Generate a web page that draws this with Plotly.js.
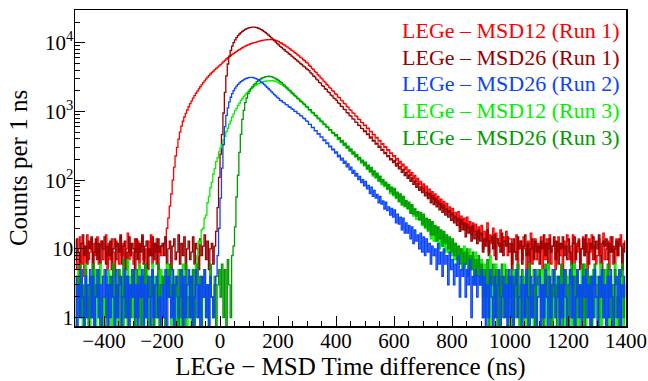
<!DOCTYPE html>
<html><head><meta charset="utf-8">
<script src="https://cdn.plot.ly/plotly-3.0.1.min.js"></script>
<style>html,body{margin:0;padding:0;background:#fff;} #chart{width:648px;height:381px;}</style>
</head><body><div id="chart"></div>
<script>
// Histogram binning (ns)
const binStart = -500;
const binWidth = 5;

const seriesNames = ["LEGe \u2013 MSD12 (Run 1)", "LEGe \u2013 MSD26 (Run 1)", "LEGe \u2013 MSD26 (Run 2)", "LEGe \u2013 MSD12 (Run 3)", "LEGe \u2013 MSD26 (Run 3)"];

// counts per 1 ns, one value per 5 ns bin, from -500 ns to 1400 ns
const countsMSD12Run1 = [
13,5,10,15,6,12,4,11,16,7,9,14,5,12,8,15,6,11,13,7,
10,16,5,12,7,14,9,4,13,11,6,15,8,12,5,10,17,7,12,9,
6,14,9,13,5,11,15,7,10,4,13,8,16,6,12,9,14,5,11,8,
11,12,15,20,28,42,63,100,155,225,300,395,500,610,720,830,940,1050,1170,1300,
1430,1560,1700,1840,1980,2130,2290,2450,2620,2790,2970,3150,3330,3510,3690,3870,4050,4230,4420,4610,
4800,5050,5300,5550,5800,6040,6280,6520,6760,7000,7240,7480,7720,7960,8200,8450,8700,8950,9150,9330,
9500,9680,9850,10000,10150,10300,10450,10580,10700,10800,10900,10980,11050,11080,11100,11090,11050,10950,10800,10600,
10350,10020,9830,9490,9260,8910,8680,8330,8100,7750,7530,7190,6980,6650,6440,6140,5950,5650,5470,5200,
5040,4700,4530,4230,4080,3800,3670,3420,3300,3080,2970,2770,2680,2490,2400,2240,2170,2010,1950,1810,
1760,1620,1590,1460,1425,1310,1285,1180,1160,1060,1040,955,935,860,845,770,760,695,685,625,
630,565,570,505,512,455,462,410,418,370,378,333,340,300,308,270,278,244,250,220,
228,196,207,176,188,160,171,143,156,129,141,117,129,104,117,95,106,86,96,79,
88,70,82,62,74,57,68,52,63,48,58,44,53,40,49,37,46,34,41,31,
39,28,34,26,35,21,30,23,28,19,29,20,25,16,24,18,23,14,21,16,
22,10,18,13,24,9,16,12,20,8,17,14,11,19,9,15,13,18,8,14,
14,6,12,9,16,5,11,13,7,15,10,4,13,8,17,6,11,14,7,12,
9,15,5,12,7,14,10,16,6,11,13,5,9,15,8,12,4,13,10,16,
13,7,11,16,5,12,9,14,6,10,15,8,12,5,14,9,16,7,11,6,
8,14,6,12,17,7,10,13,5,15,9,11,6,14,8,12,16,5,10,13];

const countsMSD26Run1 = [
7,14,9,5,12,16,8,11,6,13,10,15,5,9,14,7,12,6,13,10,
15,6,11,8,13,5,10,14,7,12,9,16,6,11,13,5,9,15,8,12,
10,5,14,7,12,9,16,6,11,13,5,10,8,15,7,12,6,14,9,11,
12,8,15,6,10,13,5,11,14,7,9,16,6,12,8,15,5,10,13,7,
9,15,6,12,10,5,14,8,11,16,7,13,5,10,12,6,11,18,40,110,
240,460,950,1900,3300,4900,6400,7700,8900,10000,11000,11900,12700,13400,14000,14600,15100,15600,16000,16300,
16600,16750,16850,16850,16750,16550,16250,15900,15500,15050,14550,14000,13450,12900,12350,11800,11250,10700,10200,9700,
9300,8840,8570,8150,7900,7500,7280,6910,6710,6370,6170,5860,5680,5390,5230,4960,4820,4570,4450,4220,
4060,3930,3650,3530,3280,3180,2950,2860,2650,2580,2380,2320,2140,2090,1930,1880,1730,1690,1560,1520,
1450,1330,1300,1190,1175,1070,1060,960,950,870,855,778,772,700,695,630,625,566,562,510,
520,462,470,410,425,372,384,336,346,300,312,272,280,244,253,221,228,198,206,181,
192,160,175,146,158,130,143,117,130,106,119,96,108,87,98,79,90,71,80,66,
76,59,67,54,64,47,60,44,55,41,50,37,46,34,43,31,38,29,36,26,
33,24,30,22,28,18,27,19,24,15,23,17,21,13,22,14,18,12,19,13,
17,9,14,11,19,8,13,15,10,16,7,14,12,9,17,8,13,11,15,9,
12,5,14,9,7,15,10,13,6,11,16,8,12,5,10,14,7,13,9,11,
6,13,10,16,8,12,5,14,9,11,15,7,13,6,12,10,15,8,11,7,
14,9,6,12,15,7,11,13,5,10,14,8,16,9,6,12,10,15,7,13,
10,16,8,5,13,11,14,7,12,9,15,6,10,13,8,14,11,5,12,9];

const countsMSD26Run2 = [
4,0,3,1,5,2,0,4,1,3,5,1,4,0,2,5,1,3,0,4,
2,5,0,3,1,4,2,0,5,1,3,4,0,2,5,1,4,0,3,2,
5,1,3,0,4,2,5,0,3,1,4,2,0,5,1,3,4,1,2,0,
3,1,5,0,4,2,1,5,0,3,4,1,2,5,0,4,1,3,5,1,
4,0,2,5,1,3,0,4,2,5,1,3,0,4,2,1,3,4,8,20,
55,150,330,600,880,1130,1380,1610,1820,2010,2180,2330,2470,2600,2710,2810,2900,2980,3040,3090,
3130,3140,3120,3080,3020,2950,2870,2780,2680,2580,2470,2360,2250,2140,2040,1940,1850,1760,1680,1600,
1545,1455,1432,1352,1336,1260,1244,1170,1152,1088,1072,1004,998,936,925,868,856,798,784,728,
718,648,650,580,585,522,528,468,475,422,428,378,386,340,348,306,313,276,282,247,
258,218,232,196,210,176,190,156,172,142,155,126,139,115,126,102,114,92,102,83,
96,75,84,64,79,58,71,55,62,47,58,45,50,38,48,36,41,31,39,29,
37,24,32,23,29,19,28,17,24,17,22,14,21,12,19,13,16,10,17,9,
15,8,14,9,12,6,11,8,10,5,12,6,9,4,10,6,8,3,9,5,
7,3,6,4,8,2,5,4,6,2,5,3,7,1,4,3,5,2,4,3,
5,1,4,0,3,1,5,2,0,4,1,3,5,0,2,4,1,3,0,5,
1,4,0,3,5,1,2,4,0,3,1,5,2,0,4,1,3,5,0,2,
4,0,3,1,5,2,0,4,1,3,5,1,2,4,0,3,1,5,2,0,
3,5,1,4,0,2,5,1,3,0,4,2,5,1,3,0,4,1,5,2,
0,4,2,5,1,3,0,4,1,5,2,0,3,4,1,5,0,3,2,4];

const countsMSD12Run3 = [
3,0,5,1,4,0,2,6,1,3,0,4,2,5,0,3,1,6,0,2,
0,4,1,5,2,0,6,1,3,0,5,2,4,0,3,1,7,0,4,1,
5,0,3,1,6,2,0,4,1,5,0,3,2,6,0,4,1,3,0,5,
1,4,0,6,2,5,0,3,1,4,0,5,2,0,6,1,3,0,4,2,
0,5,1,6,8,13,12,19,20,28,31,47,58,78,93,123,147,186,212,259,
295,326,386,436,510,570,656,730,832,914,1028,1112,1230,1322,1450,1540,1660,1742,1858,1932,
2060,2130,2240,2300,2400,2450,2540,2580,2650,2680,2740,2750,2790,2780,2810,2790,2800,2760,2750,2690,
2610,2520,2470,2370,2310,2200,2130,2020,1950,1850,1790,1690,1630,1540,1490,1400,1355,1275,1235,1160,
1135,1045,1030,948,938,860,852,780,774,708,702,642,638,583,580,530,526,481,478,437,
445,388,404,352,367,320,333,290,303,263,275,238,250,216,227,196,207,178,188,162,
178,144,158,131,147,115,134,108,119,97,112,86,101,81,90,73,85,64,77,59,
72,54,64,49,60,43,56,41,49,38,45,34,42,30,39,27,35,26,31,22,
30,20,27,18,26,14,24,13,21,13,20,10,18,11,17,9,15,9,14,8,
13,7,12,6,11,8,10,5,11,6,9,4,10,5,8,3,9,4,7,3,
7,2,6,1,5,3,8,0,4,2,6,1,5,0,4,3,6,1,4,2,
0,4,1,5,2,6,0,3,1,4,0,5,2,6,1,3,0,4,2,5,
3,0,5,1,4,0,6,2,3,0,5,1,4,2,0,5,1,3,0,4,
1,5,0,3,6,1,4,0,2,5,1,6,0,3,2,4,0,5,1,3,
4,1,6,0,3,1,5,2,0,4,1,3,6,0,2,5,1,4,0,3];

const countsMSD26Run3 = [
0,4,2,6,1,3,0,5,2,0,4,1,6,0,3,2,5,0,1,4,
5,1,3,0,4,2,6,0,3,1,5,0,2,7,1,4,0,3,1,5,
2,0,5,1,3,0,4,2,6,1,0,4,2,5,0,3,1,6,0,3,
4,1,0,5,2,6,1,3,0,4,2,0,5,1,3,0,6,2,1,4,
1,5,0,3,6,1,4,0,2,5,1,3,0,6,2,1,4,0,3,5,
2,6,1,5,0,7,3,1,8,11,21,57,118,254,465,768,1040,1342,1570,1812,
1982,2170,2300,2462,2570,2712,2800,2924,2990,3092,3140,3212,3222,3252,3220,3210,3140,3090,2990,2918,
2832,2708,2635,2496,2414,2276,2194,2066,2004,1886,1824,1716,1664,1566,1522,1428,1392,1308,1272,1188,
1166,1075,1060,975,963,885,875,805,795,729,722,662,655,601,596,545,543,495,491,449,
458,400,415,362,380,328,345,298,314,270,285,245,259,222,235,202,214,183,195,166,
183,148,165,133,153,121,137,109,127,98,115,92,102,84,94,75,87,68,79,62,
76,56,67,49,63,45,58,42,51,39,48,33,44,32,38,30,35,27,34,23,
32,21,28,19,27,16,25,16,22,13,21,14,19,11,18,12,16,10,15,9,
14,8,12,7,11,6,10,5,9,6,10,4,8,5,9,3,7,4,8,3,
6,1,5,2,7,0,4,3,6,1,5,0,4,2,6,1,3,5,0,4,
2,5,0,4,1,6,2,0,5,3,1,4,0,6,2,1,5,0,3,4,
5,1,3,0,6,2,4,1,0,5,2,3,0,4,1,6,0,3,5,1,
0,3,6,1,4,0,5,2,3,1,6,0,2,5,1,4,0,3,6,2,
3,0,4,2,5,1,0,6,2,4,0,3,5,1,2,0,4,6,1,3];

const yTickValues = [1, 10, 100, 1000, 10000];
const yTickLabels = ["1", "10", "10<sup>2</sup>", "10<sup>3</sup>", "10<sup>4</sup>"];
const xAxisTitle = "LEGe \u2212 MSD Time difference (ns)";
const yAxisTitle = "Counts per 1 ns";

// ---- drawing ----
const seriesData = [countsMSD12Run1, countsMSD26Run1, countsMSD26Run2, countsMSD12Run3, countsMSD26Run3];
const seriesColors = ["#ff0000", "#990000", "#0a44ff", "#00f000", "#009a00"];
const drawOrder = [0, 1, 3, 4, 2];
const FONT = "'Liberation Serif', 'Times New Roman', Times, serif";

function binCenters(n) { const a = []; for (let i = 0; i < n; i++) a.push(binStart + binWidth * (i + 0.5)); return a; }
// empty bins are drawn down to the bottom of the log frame
function forLog(v) { return v.map(c => (c > 0 ? c : 0.3)); }

const traces = drawOrder.map(i => ({
  type: 'scatter', mode: 'lines',
  x: binCenters(seriesData[i].length), y: forLog(seriesData[i]),
  line: {shape: 'hvh', width: 1.3, color: seriesColors[i]},
  name: seriesNames[i], hoverinfo: 'skip', showlegend: false
}));

const minorY = [];
for (let d = 0; d <= 4; d++) for (let k = 2; k <= 9; k++) { const v = k * Math.pow(10, d); if (v < 29000) minorY.push(v); }

const legendY = [0.9345, 0.8505, 0.766, 0.682, 0.598];
const annotations = seriesNames.map((t, i) => ({
  xref: 'paper', yref: 'paper', x: 0.992, y: legendY[i], xanchor: 'right', yanchor: 'middle',
  text: t, showarrow: false, font: {family: FONT, size: 22, color: seriesColors[i]}
}));

const layout = {
  width: 648, height: 381,
  margin: {l: 75, r: 22, t: 10, b: 55},
  paper_bgcolor: '#ffffff', plot_bgcolor: '#ffffff',
  font: {family: FONT, color: '#000'},
  showlegend: false,
  xaxis: {
    range: [-500, 1400], tick0: 0, dtick: 200,
    ticks: 'inside', ticklen: 10, tickwidth: 1, tickcolor: '#000',
    minor: {tick0: 0, dtick: 50, ticks: 'inside', ticklen: 5, tickwidth: 1, tickcolor: '#000', showgrid: false},
    showline: true, linecolor: '#000', linewidth: 1.5, mirror: true,
    showgrid: false, zeroline: false,
    ticklabelstandoff: -5,
    tickfont: {family: FONT, size: 21, color: '#000'},
    title: {text: xAxisTitle, font: {family: FONT, size: 25, color: '#000'}, standoff: 2}
  },
  yaxis: {
    type: 'log', range: [-0.121, 4.476],
    tickmode: 'array', tickvals: yTickValues, ticktext: yTickLabels,
    ticks: 'inside', ticklen: 10, tickwidth: 1, tickcolor: '#000',
    minor: {tickmode: 'array', tickvals: minorY, ticks: 'inside', ticklen: 5, tickwidth: 1, tickcolor: '#000', showgrid: false},
    showline: true, linecolor: '#000', linewidth: 1.5, mirror: true,
    showgrid: false, zeroline: false,
    ticklabelstandoff: -4,
    tickfont: {family: FONT, size: 21, color: '#000'},
    title: {text: yAxisTitle, font: {family: FONT, size: 25, color: '#000'}, standoff: 10}
  },
  annotations: annotations
};

Plotly.newPlot('chart', traces, layout, {staticPlot: true, displayModeBar: false});
</script>
</body></html>
